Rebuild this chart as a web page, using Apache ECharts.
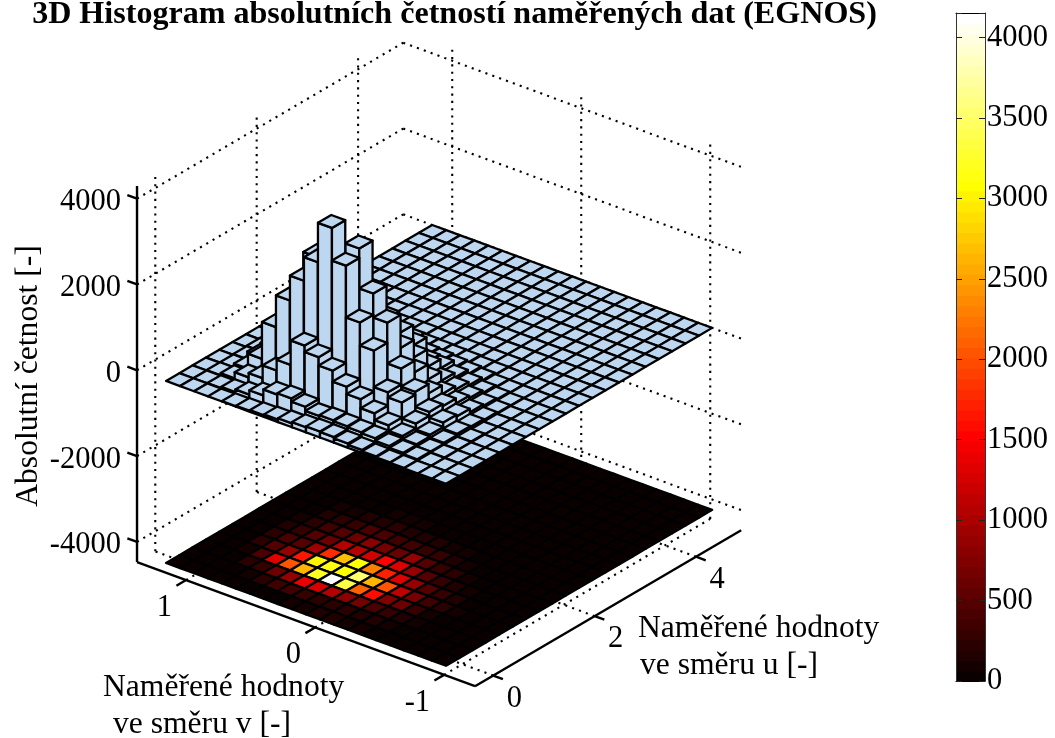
<!DOCTYPE html>
<html><head><meta charset="utf-8">
<style>html,body{margin:0;padding:0;background:#fff}#c{width:1055px;height:738px}</style>
<script src="https://cdn.jsdelivr.net/npm/echarts@6/dist/echarts.min.js"></script>
</head><body><div id="c"></div>
<script>
// Histogram counts: one array per u bin (front to back), entries run along v (high v to low v)
const u00=[0,0,0,0,10,20,40,60,90,120,140,130,100,70,40,20,10,0,0,0];
const u01=[0,0,10,40,100,200,340,370,295,200,220,200,180,160,100,60,30,0,0,0];
const u02=[0,10,60,200,300,600,850,1420,1270,1075,820,650,440,280,150,80,30,10,0,0];
const u03=[0,10,100,450,1310,2050,2630,3180,4100,3340,2135,1600,750,630,260,120,50,10,0,0];
const u04=[0,20,200,500,850,1650,3000,3150,3050,3560,2630,2070,1120,700,350,220,80,20,0,0];
const u05=[0,30,220,400,500,950,1800,2700,3100,2290,1750,1300,850,480,300,180,60,0,0,0];
const u06=[0,30,150,300,500,640,1050,1100,1250,1550,1350,900,500,280,180,100,40,0,0,0];
const u07=[0,20,120,220,350,480,600,780,680,590,880,490,290,200,120,60,20,0,0,0];
const u08=[0,10,60,150,250,300,400,450,380,350,300,280,180,120,60,30,10,0,0,0];
const u09=[0,0,30,80,120,140,170,200,180,160,140,110,80,50,20,10,0,0,0,0];
const u10=[0,0,10,30,50,60,70,80,70,60,50,40,20,10,0,0,0,0,0,0];
const u11=[0,0,0,10,20,20,30,30,20,20,10,10,0,0,0,0,0,0,0,0];
const u12=[0,0,0,0,0,10,10,10,10,0,0,0,0,0,0,0,0,0,0,0];
const u13=[0,0,0,0,0,0,0,0,0,0,0,0,0,0,0,0,0,0,0,0];
const u14=[0,0,0,0,0,0,0,0,0,0,0,0,0,0,0,0,0,0,0,0];
const u15=[0,0,0,0,0,0,0,0,0,0,0,0,0,0,0,0,0,0,0,0];
const u16=[0,0,0,0,0,0,0,0,0,0,0,0,0,0,0,0,0,0,0,0];
const u17=[0,0,0,0,0,0,0,0,0,0,0,0,0,0,0,0,0,0,0,0];
const u18=[0,0,0,0,0,0,0,0,0,0,0,0,0,0,0,0,0,0,0,0];
const u19=[0,0,0,0,0,0,0,0,0,0,0,0,0,0,0,0,0,0,0,0];
const counts=[u00,u01,u02,u03,u04,u05,u06,u07,u08,u09,u10,u11,u12,u13,u14,u15,u16,u17,u18,u19];

const uTicks=[0,2,4];
const vTicks=[1,0,-1];
const zTicks=[-4000,-2000,0,2000,4000];
const barTicks=[0,500,1000,1500,2000,2500,3000,3500,4000];
const colorMax=4153;

// Data ranges
const uBox=[-0.36,4.89], vBox=[-1.24,1.38], zBox=[-4470,4296];
const uStart=-0.36, uStep=0.2625, vStart=1.155, vStep=0.1085, floorZ=-4242;

// Orthographic view of the 3D axes
const view={ox:333.3,oy:425,ux:50.7,uy:-29.7,vx:-129,vy:-47.4,zy:-0.0429};
function proj(u,v,z){return [view.ox+u*view.ux+v*view.vx, view.oy+u*view.uy+v*view.vy+z*view.zy];}

function hot(value){
  const n=64, k=Math.min(n-1,Math.floor(value/colorMax*n));
  const n1=24,n2=48;
  const r=Math.min(1,(k+1)/n1), g=k<n1?0:Math.min(1,(k+1-n1)/n1), b=k<n2?0:(k+1-n2)/(n-n2);
  return 'rgb('+Math.round(r*255)+','+Math.round(g*255)+','+Math.round(b*255)+')';
}

// painter's order: far bins first
const cells=[];
for(let j=counts.length-1;j>=0;j--) for(let i=0;i<counts[j].length;i++) cells.push([j,i,counts[j][i]]);

const EDGE='#000', BLUE='#bdd7f0', SERIF='"Liberation Serif","Times New Roman",serif';
const FS=30.5, NAMEFS=31.6, EDGEW=2.3;

function poly(api,pts,fill,w){
  return {type:'polygon',shape:{points:pts.map(p=>api.coord(p))},
    style:{fill:fill,stroke:EDGE,lineWidth:w,lineJoin:'round'}};
}
function segs(){
  const out=[];
  zTicks.forEach(z=>{
    out.push([[uBox[0],vBox[1],z],[uBox[1],vBox[1],z]]);
    out.push([[uBox[1],vBox[1],z],[uBox[1],vBox[0],z]]);
  });
  uTicks.forEach(u=>{
    out.push([[u,vBox[1],zBox[0]],[u,vBox[1],zBox[1]]]);
    out.push([[u,vBox[0],zBox[0]],[u,vBox[1],zBox[0]]]);
  });
  vTicks.forEach(v=>{
    out.push([[uBox[1],v,zBox[0]],[uBox[1],v,zBox[1]]]);
    out.push([[uBox[0],v,zBox[0]],[uBox[1],v,zBox[0]]]);
  });
  return out;
}
const dotted=segs();
const axisPaths=[
  [[uBox[0],vBox[1],zBox[1]],[uBox[0],vBox[1],zBox[0]]],
  [[uBox[0],vBox[1],zBox[0]],[uBox[0],vBox[0],zBox[0]]],
  [[uBox[0],vBox[0],zBox[0]],[uBox[1],vBox[0],zBox[0]]]
];
const TICK_V=0.075, TICK_U=0.19;
uTicks.forEach(u=>axisPaths.push([[u,vBox[0],zBox[0]],[u,vBox[0]-TICK_V,zBox[0]]]));
vTicks.forEach(v=>axisPaths.push([[uBox[0],v,zBox[0]],[uBox[0]-TICK_U,v,zBox[0]]]));
zTicks.forEach(z=>axisPaths.push([[uBox[0],vBox[1],z],[uBox[0],vBox[1]+TICK_V,z]]));

function lineSeries(name,lines,style){
  return {type:'custom',name:name,coordinateSystem:'cartesian2d',xAxisIndex:0,yAxisIndex:0,silent:true,
    animation:false,progressive:0,clip:false,z:style.z,
    data:lines.map((_,k)=>[k]),
    renderItem:(p,api)=>{
      const l=lines[api.value(0)];
      const a=api.coord(proj.apply(null,l[0])),b=api.coord(proj.apply(null,l[1]));
      return {type:'line',shape:{x1:a[0],y1:a[1],x2:b[0],y2:b[1]},
        style:{stroke:'#000',lineWidth:style.w,lineDash:style.dash||null,lineCap:'butt',fill:null}};
    }};
}

const labels=[];
zTicks.forEach(z=>{const p=proj(uBox[0],vBox[1],z);labels.push({t:String(z),x:p[0]-16,y:p[1]+3.5,a:'right'});});
uTicks.forEach(u=>{const p=proj(u,vBox[0],zBox[0]);labels.push({t:String(u),x:p[0]+21,y:p[1]+23,a:'center'});});
vTicks.forEach(v=>{const p=proj(uBox[0],v,zBox[0]);labels.push({t:String(v),x:p[0]-14,y:p[1]+28,a:'right'});});

const option={
  animation:false,backgroundColor:'#fff',
  title:{text:'3D Histogram absolutních četností naměřených dat (EGNOS)',left:449.5,top:-6,textAlign:'center',
    textStyle:{fontFamily:SERIF,fontWeight:'bold',fontSize:32.1,color:'#000'}},
  grid:[{left:0,top:0,width:1055,height:738,containLabel:false},
        {left:956,top:13,width:29,height:668}],
  xAxis:[{type:'value',min:0,max:1055,show:false,gridIndex:0},
         {type:'value',min:0,max:1,gridIndex:1,position:'bottom',z:6,axisLine:{show:true,onZero:false,lineStyle:{color:'#000',width:1}},axisTick:{show:false},axisLabel:{show:false},splitLine:{show:false}},
         {type:'value',min:0,max:1,gridIndex:1,position:'top',z:6,axisLine:{show:true,onZero:false,lineStyle:{color:'#000',width:1}},axisTick:{show:false},axisLabel:{show:false},splitLine:{show:false}}],
  yAxis:[{type:'value',min:0,max:738,inverse:true,show:false,gridIndex:0},
         {type:'value',min:0,max:colorMax,interval:500,gridIndex:1,position:'right',z:6,
          axisLine:{show:true,onZero:false,lineStyle:{color:'#333',width:1}},
          axisTick:{show:true,inside:true,length:6,lineStyle:{color:'#222',width:1}},
          axisLabel:{show:true,inside:false,margin:2,color:'#000',fontFamily:SERIF,fontSize:FS,formatter:v=>barTicks.includes(v)?String(v):''},
          splitLine:{show:false}},
         {type:'value',min:0,max:colorMax,interval:500,gridIndex:1,position:'left',z:6,
          axisLine:{show:true,onZero:false,lineStyle:{color:'#333',width:1}},
          axisTick:{show:true,inside:true,length:6,lineStyle:{color:'#222',width:1}},
          axisLabel:{show:false},splitLine:{show:false}}],
  series:[
    lineSeries('dots',dotted,{w:2.1,dash:[2.1,5.2],z:1}),
    {type:'custom',name:'floor',coordinateSystem:'cartesian2d',xAxisIndex:0,yAxisIndex:0,silent:true,animation:false,progressive:0,clip:false,z:2,
      data:cells,
      renderItem:(p,api)=>{
        const j=api.value(0),i=api.value(1),c=api.value(2);
        const u0=uStart+j*uStep,u1=u0+uStep,v0=vStart-i*vStep,v1=v0-vStep;
        return poly(api,[proj(u0,v0,floorZ),proj(u1,v0,floorZ),proj(u1,v1,floorZ),proj(u0,v1,floorZ)],hot(c),EDGEW);
      }},
    {type:'custom',name:'bars',coordinateSystem:'cartesian2d',xAxisIndex:0,yAxisIndex:0,silent:true,animation:false,progressive:0,clip:false,z:3,
      data:cells,
      renderItem:(p,api)=>{
        const j=api.value(0),i=api.value(1),c=api.value(2);
        const u0=uStart+j*uStep,u1=u0+uStep,v0=vStart-i*vStep,v1=v0-vStep;
        const kids=[];
        if(c>0){
          kids.push(poly(api,[proj(u0,v0,0),proj(u0,v1,0),proj(u0,v1,c),proj(u0,v0,c)],BLUE,EDGEW));
          kids.push(poly(api,[proj(u0,v1,0),proj(u1,v1,0),proj(u1,v1,c),proj(u0,v1,c)],BLUE,EDGEW));
        }
        kids.push(poly(api,[proj(u0,v0,c),proj(u1,v0,c),proj(u1,v1,c),proj(u0,v1,c)],BLUE,EDGEW));
        return {type:'group',children:kids};
      }},
    lineSeries('axes',axisPaths,{w:2.4,z:4}),
    {type:'custom',name:'tickLabels',coordinateSystem:'cartesian2d',xAxisIndex:0,yAxisIndex:0,silent:true,animation:false,clip:false,z:5,
      data:labels.map((_,k)=>[k]),
      renderItem:(p,api)=>{
        const l=labels[api.value(0)],c=api.coord([l.x,l.y]);
        return {type:'text',x:c[0],y:c[1],style:{text:l.t,textAlign:l.a,textVerticalAlign:'middle',fontFamily:SERIF,fontSize:FS,fill:'#000'}};
      }},
    {type:'custom',name:'colorbar',coordinateSystem:'cartesian2d',xAxisIndex:1,yAxisIndex:1,silent:true,animation:false,progressive:0,z:2,
      data:Array.from({length:64},(_,k)=>[k]),
      renderItem:(p,api)=>{
        const k=api.value(0),lo=k/64*colorMax,hi=(k+1)/64*colorMax;
        const a=api.coord([0,hi]),b=api.coord([1,lo]);
        return {type:'rect',shape:{x:a[0],y:a[1],width:b[0]-a[0],height:b[1]-a[1]+1},style:{fill:hot(lo+1),stroke:null}};
      }}
  ],
  graphic:[
    {type:'text',x:28.5,y:376,rotation:Math.PI/2,style:{text:'Absolutní četnost [-]',textAlign:'center',textVerticalAlign:'middle',fontFamily:SERIF,fontSize:NAMEFS,fill:'#000'}},
    {type:'text',x:638,y:629,style:{text:'Naměřené hodnoty',textVerticalAlign:'middle',fontFamily:SERIF,fontSize:NAMEFS,fill:'#000'}},
    {type:'text',x:640,y:666,style:{text:'ve směru u [-]',textVerticalAlign:'middle',fontFamily:SERIF,fontSize:NAMEFS,fill:'#000'}},
    {type:'text',x:103,y:688,style:{text:'Naměřené hodnoty',textVerticalAlign:'middle',fontFamily:SERIF,fontSize:NAMEFS,fill:'#000'}},
    {type:'text',x:113,y:725,style:{text:'ve směru v [-]',textVerticalAlign:'middle',fontFamily:SERIF,fontSize:NAMEFS,fill:'#000'}}
  ]
};
echarts.init(document.getElementById('c'),null,{renderer:'canvas'}).setOption(option);
</script></body></html>
